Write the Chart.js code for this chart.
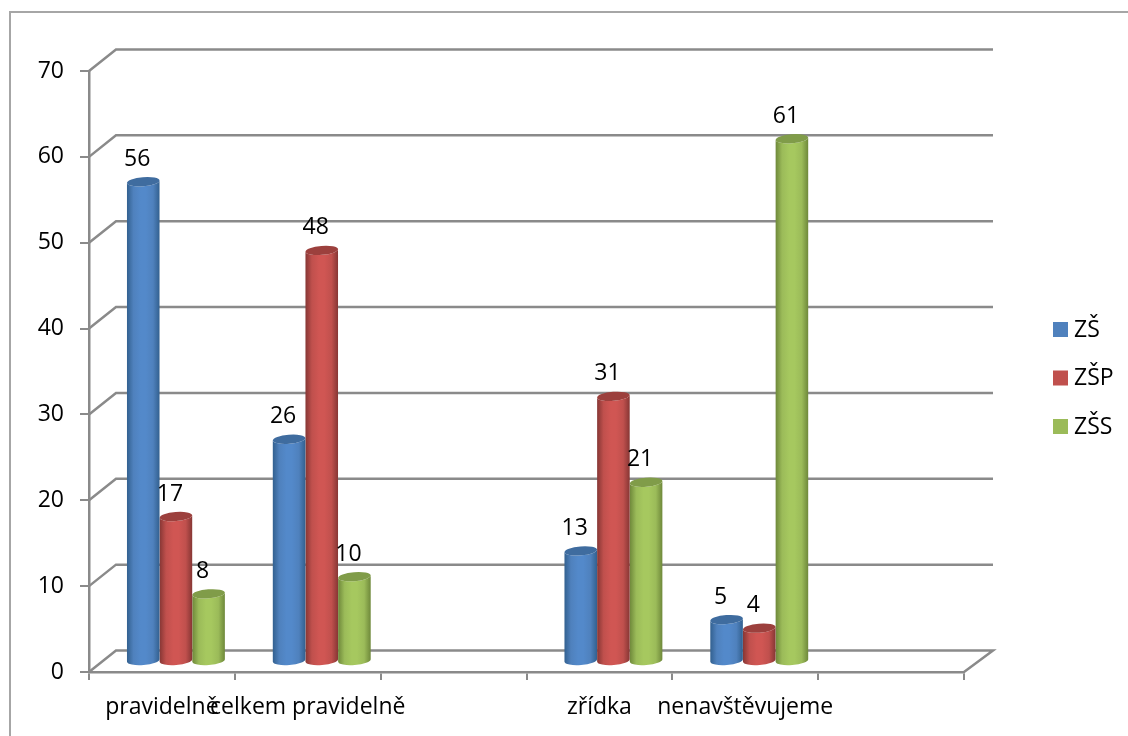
<!DOCTYPE html>
<html lang="cs">
<head>
<meta charset="utf-8">
<title>Návštěvnost</title>
<script src="https://cdn.jsdelivr.net/npm/chart.js@4"></script>
<style>
    html, body { margin: 0; padding: 0; background: #fff; overflow: hidden; }
    #wrap { position: relative; width: 1128px; height: 736px; }
    /* outer chart frame, open on the right and at the bottom */
    #frame { position: absolute; left: 9px; top: 11px; right: 0; bottom: 0; border-left: 2px solid #a6a6a6; border-top: 2px solid #a6a6a6; }
    canvas { position: absolute; left: 0; top: 0; }
</style>
</head>
<body>
<div id="wrap">
    <div id="frame"></div>
    <canvas id="chart1" width="1128" height="736"></canvas>
</div>
<script>
"use strict";
const categories = ['pravidelně', 'celkem pravidelně', '', 'zřídka', 'nenavštěvujeme', ''];
const seriesNames = ['ZŠ', 'ZŠP', 'ZŠS'];
const zsValues = [56, 26, null, 13, 5, null];
const zspValues = [17, 48, null, 31, 4, null];
const zssValues = [8, 10, null, 21, 61, null];
const yTicks = [0, 10, 20, 30, 40, 50, 60, 70];

const FONT = '"Open Sans", sans-serif';
const FONT_SIZE = 23;
const GRID = '#8a8a8a';
// depth of the 3D box: the back wall sits up and to the right of the front plane
const DEPTH_X_LEFT = 27;
const DEPTH_X_RIGHT = 29;
const DEPTH_Y = 21.5;
// cylinders stand in the middle of the floor depth
const BAR_DX = 14;
const BAR_DY = -9.5;
const TILT = -0.08;

const palette = [
    { legend: '#4f81bd', edge: '#32608f', mid: '#5389ca', top: '#3f6c9f' },
    { legend: '#c0504d', edge: '#863634', mid: '#d05653', top: '#9c403d' },
    { legend: '#9bbb59', edge: '#6e883a', mid: '#a6c85f', top: '#809c49' }
];

// Back wall lines and the diagonals joining them to the front axis
const wallPlugin = {
    id: 'wall',
    beforeDatasetsDraw(chart) {
        const { ctx, chartArea, scales } = chart;
        ctx.save();
        ctx.strokeStyle = GRID;
        ctx.lineWidth = 2.5;
        yTicks.forEach(v => {
            const y = scales.y.getPixelForValue(v);
            ctx.beginPath();
            ctx.moveTo(chartArea.left, y);
            ctx.lineTo(chartArea.left + DEPTH_X_LEFT, y - DEPTH_Y);
            ctx.lineTo(chartArea.right + DEPTH_X_RIGHT, y - DEPTH_Y);
            if (v === 0) ctx.lineTo(chartArea.right, y);
            ctx.stroke();
        });
        ctx.restore();
    }
};

// Bars are painted as shaded cylinders from the elements Chart.js laid out
const cylinderPlugin = {
    id: 'cylinder',
    beforeDatasetDraw(chart, args) {
        const { ctx } = chart;
        const colors = palette[args.index];
        const rx = args.meta.data[0].width / 2;
        const ry = 4.5;
        const values = chart.data.datasets[args.index].data;
        args.meta.data.forEach((el, j) => {
            if (values[j] === null) return;
            const cx = el.x + BAR_DX;
            const top = el.y + BAR_DY;
            const bottom = el.base + BAR_DY - 1;
            const grad = ctx.createLinearGradient(cx - rx, 0, cx + rx, 0);
            grad.addColorStop(0, colors.edge);
            grad.addColorStop(0.2, colors.legend);
            grad.addColorStop(0.42, colors.mid);
            grad.addColorStop(0.58, colors.mid);
            grad.addColorStop(0.8, colors.legend);
            grad.addColorStop(1, colors.edge);
            ctx.save();
            ctx.fillStyle = grad;
            ctx.beginPath();
            ctx.ellipse(cx, bottom, rx, ry, TILT, 0, Math.PI);
            ctx.ellipse(cx, top, rx, ry, TILT, Math.PI, 0, true);
            ctx.closePath();
            ctx.fill();
            ctx.fillStyle = colors.top;
            ctx.beginPath();
            ctx.ellipse(cx, top, rx, ry, TILT, 0, Math.PI * 2);
            ctx.fill();
            ctx.restore();
        });
        return false;
    }
};

// Value labels above each cylinder
const valueLabelPlugin = {
    id: 'valueLabels',
    afterDatasetsDraw(chart) {
        const { ctx } = chart;
        ctx.save();
        ctx.font = `${FONT_SIZE}px ${FONT}`;
        ctx.fillStyle = '#000';
        ctx.textAlign = 'center';
        ctx.textBaseline = 'middle';
        chart.data.datasets.forEach((ds, i) => {
            chart.getDatasetMeta(i).data.forEach((el, j) => {
                if (ds.data[j] === null) return;
                ctx.fillText(String(ds.data[j]), el.x + 8, el.y - 32);
            });
        });
        ctx.restore();
    }
};

// Legend column to the right of the plot
const sideLegendPlugin = {
    id: 'sideLegend',
    afterDraw(chart) {
        const { ctx } = chart;
        ctx.save();
        ctx.font = `${FONT_SIZE}px ${FONT}`;
        ctx.textBaseline = 'middle';
        seriesNames.forEach((name, i) => {
            const y = 322 + i * 48.5;
            ctx.fillStyle = palette[i].legend;
            ctx.fillRect(1053, y, 15, 15);
            ctx.fillStyle = '#000';
            ctx.fillText(name, 1074, y + 8);
        });
        ctx.restore();
    }
};

window.addEventListener('DOMContentLoaded', () => {
    const seriesValues = [zsValues, zspValues, zssValues];
    new Chart(document.getElementById('chart1'), {
        type: 'bar',
        data: {
            labels: categories,
            datasets: seriesNames.map((name, i) => ({
                label: name,
                data: seriesValues[i],
                backgroundColor: palette[i].legend,
                borderWidth: 0
            }))
        },
        plugins: [wallPlugin, cylinderPlugin, valueLabelPlugin, sideLegendPlugin],
        options: {
            responsive: false,
            animation: false,
            layout: { padding: { top: 71, right: 164, left: 0, bottom: 0 } },
            categoryPercentage: 0.672,
            barPercentage: 1,
            plugins: {
                tooltip: { enabled: false },
                legend: { display: false }
            },
            scales: {
                x: {
                    grid: { drawOnChartArea: false, color: GRID, lineWidth: 2, tickLength: 8 },
                    border: { color: GRID, width: 2.5 },
                    ticks: { autoSkip: false, maxRotation: 0, minRotation: 0, padding: 14, color: '#000', font: { family: FONT, size: FONT_SIZE } },
                    afterFit: s => { s.height = 64; }
                },
                y: {
                    min: 0,
                    max: 70,
                    grid: { drawOnChartArea: false, color: GRID, lineWidth: 2, tickLength: 9 },
                    border: { color: GRID, width: 2.5 },
                    ticks: { stepSize: 10, padding: 16, color: '#000', font: { family: FONT, size: FONT_SIZE } },
                    afterFit: s => { s.width = 89; }
                }
            }
        }
    });
});
</script>
</body>
</html>
